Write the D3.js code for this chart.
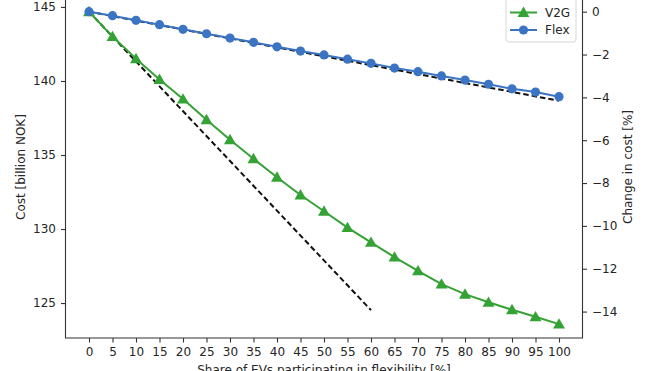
<!DOCTYPE html>
<head>
<meta charset="utf-8">
<style>
body { margin: 0; background: #fff; }
text { font-family: "DejaVu Sans", sans-serif; font-size: 12px; fill: #262626; }
.axis path, .axis line { stroke: #333; stroke-width: 1.1px; }
</style>
</head>
<body>
<script src="https://cdn.jsdelivr.net/npm/d3@7"></script>
<script>
// share of EVs participating (%)
var shares = [0, 5, 10, 15, 20, 25, 30, 35, 40, 45, 50, 55, 60, 65, 70, 75, 80, 85, 90, 95, 100];
// total cost, billion NOK
var v2g = [144.68, 143.0, 141.5, 140.1, 138.78, 137.38, 136.03, 134.75, 133.5, 132.3, 131.2,
           130.1, 129.1, 128.1, 127.18, 126.28, 125.6, 125.05, 124.55, 124.07, 123.58];
var flex = [144.68, 144.41, 144.10, 143.80, 143.49, 143.19, 142.90, 142.61, 142.31, 142.02, 141.76,
            141.47, 141.19, 140.87, 140.63, 140.34, 140.06, 139.78, 139.47, 139.25, 138.94];
// linear trends from the first step
var v2gTrend = [[0, 144.68], [60, 124.52]];
var flexTrend = [[0, 144.68], [100, 138.66]];
var costTicks = [125, 130, 135, 140, 145];
var pctTicks = [0, -2, -4, -6, -8, -10, -12, -14];

var base = v2g[0];
var W = 659, H = 371;
var pl = 65.5, pr = 582.5, pt = -4, pb = 338;

var svg = d3.select("body").append("svg")
  .attr("width", W)
  .attr("height", H);

var x = d3.scaleLinear().domain([-5, 105]).range([pl, pr]);
var y = d3.scaleLinear().domain([122.64, 145.74]).range([pb, pt]);
var y2 = d3.scaleLinear()
  .domain([(122.64 / base - 1) * 100, (145.74 / base - 1) * 100])
  .range([pb, pt]);

var minus = function(d) { return String(d).replace("-", "\u2212"); };

svg.append("g").attr("class", "axis")
  .attr("transform", "translate(0," + pb + ")")
  .call(d3.axisBottom(x).tickValues(shares).tickSize(4.5).tickPadding(5).tickSizeOuter(0));

svg.append("g").attr("class", "axis")
  .attr("transform", "translate(" + pl + ",0)")
  .call(d3.axisLeft(y).tickValues(costTicks).tickSize(4.5).tickPadding(5).tickSizeOuter(0));

svg.append("g").attr("class", "axis")
  .attr("transform", "translate(" + pr + ",0)")
  .call(d3.axisRight(y2).tickValues(pctTicks).tickFormat(minus).tickSize(4.5).tickPadding(5).tickSizeOuter(0));

svg.selectAll(".axis text").style("font-size", "12px").attr("fill", "#262626")
  .style("font-family", "DejaVu Sans, sans-serif");
svg.selectAll(".axis .domain").remove();

// spines
svg.append("path")
  .attr("d", "M" + pl + "," + pt + "V" + pb + "H" + pr + "V" + pt)
  .attr("fill", "none").attr("stroke", "#333").attr("stroke-width", 1.1);

// axis labels
svg.append("text")
  .attr("transform", "translate(25," + ((pt + pb) / 2) + ") rotate(-90)")
  .attr("text-anchor", "middle")
  .text("Cost [billion NOK]");
svg.append("text")
  .attr("transform", "translate(632," + ((pt + pb) / 2) + ") rotate(-90)")
  .attr("text-anchor", "middle")
  .text("Change in cost [%]");
svg.append("text")
  .attr("x", (pl + pr) / 2).attr("y", 374)
  .attr("text-anchor", "middle")
  .text("Share of EVs participating in flexibility [%]");

var line = d3.line().x(function(d) { return x(d[0]); }).y(function(d) { return y(d[1]); });
var green = "#35a235", blue = "#3b74c3";
var tri = d3.symbol().type(d3.symbolTriangle).size(62);

// trend lines go underneath the series
[v2gTrend, flexTrend].forEach(function(t) {
  svg.append("path").attr("d", line(t))
    .attr("fill", "none").attr("stroke", "#111").attr("stroke-width", 2)
    .attr("stroke-dasharray", "5.5,3");
});

function series(vals, color, marker) {
  var pts = shares.map(function(s, i) { return [s, vals[i]]; });
  svg.append("path").attr("d", line(pts))
    .attr("fill", "none").attr("stroke", color).attr("stroke-width", 2);
  var g = svg.append("g");
  pts.forEach(function(p) {
    if (marker == "circle") {
      g.append("circle").attr("cx", x(p[0])).attr("cy", y(p[1])).attr("r", 4.6).attr("fill", color);
    } else {
      g.append("path").attr("d", tri)
        .attr("transform", "translate(" + x(p[0]) + "," + (y(p[1]) + 1) + ")")
        .attr("fill", color);
    }
  });
}

series(v2g, green, "triangle");
series(flex, blue, "circle");

// legend
var lg = svg.append("g");
lg.append("rect")
  .attr("x", 506).attr("y", -6).attr("width", 70).attr("height", 48).attr("rx", 3)
  .attr("fill", "#fff").attr("fill-opacity", 0.85).attr("stroke", "#d6d6d6");
var items = [["V2G", green, "triangle", 12.5], ["Flex", blue, "circle", 30]];
items.forEach(function(it) {
  lg.append("line").attr("x1", 510).attr("x2", 537).attr("y1", it[3]).attr("y2", it[3])
    .attr("stroke", it[1]).attr("stroke-width", 2);
  if (it[2] == "circle") {
    lg.append("circle").attr("cx", 523.5).attr("cy", it[3]).attr("r", 4.6).attr("fill", it[1]);
  } else {
    lg.append("path").attr("d", tri).attr("transform", "translate(523.5," + (it[3] + 1) + ")").attr("fill", it[1]);
  }
  lg.append("text").attr("x", 545).attr("y", it[3] + 4.3).text(it[0]);
});
</script>
</body>
